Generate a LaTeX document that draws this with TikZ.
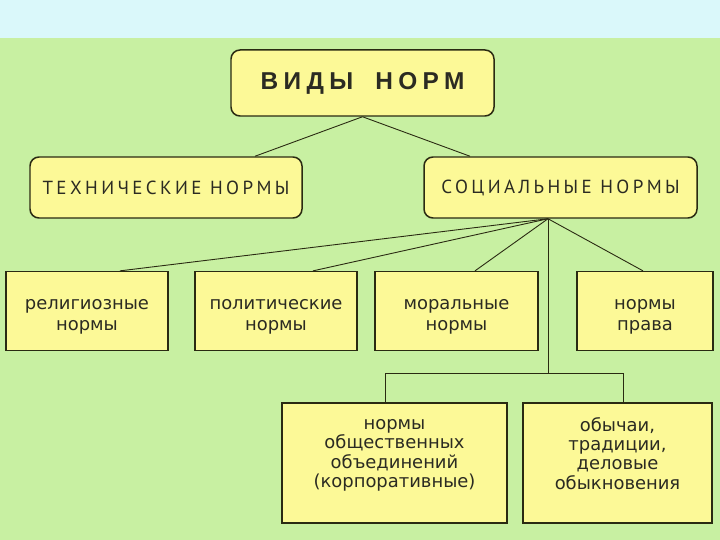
\documentclass[tikz,border=0pt]{standalone}
\usepackage{fontspec}
\usepackage{xcolor}
\usepackage{tikz}
\usetikzlibrary{positioning, calc}
\setmainfont{DejaVu Sans}
\newfontfamily\headfont[LetterSpace=22]{Liberation Sans}
\newfontfamily\capsfont[LetterSpace=18]{PT Sans}
\definecolor{skyband}{HTML}{DAF8FA}
\definecolor{meadow}{HTML}{C8F0A2}
\definecolor{paleyellow}{HTML}{FCF997}
\definecolor{darkolive}{HTML}{2A2A12}
\definecolor{inkgray}{HTML}{2B2B22}

\begin{document}
\begin{tikzpicture}[x=1bp, y=-1bp, font=\fontsize{18}{21}\selectfont,
    normbox/.style={draw=darkolive, fill=paleyellow, text=inkgray, line width=1.3pt, align=center, inner sep=2pt},
    roundbox/.style={normbox, rounded corners=9pt, line width=1.5pt},
    tallbox/.style={normbox, font=\fontsize{18}{19.5}\selectfont},
    link/.style={darkolive, line width=0.9pt}]
  % background
  \fill[skyband] (0,0) rectangle (720,540);
  \fill[meadow] (0,38) rectangle (720,540);
  \useasboundingbox (0,0) rectangle (720,540);

  \node[roundbox, minimum width=263bp, minimum height=66bp] (vidy) at (362.5,83)
    {\headfont\bfseries\fontsize{24.5}{26}\selectfont ВИДЫ\hspace{10bp} НОРМ};
  \node[roundbox, minimum width=272bp, minimum height=61bp] (tech) at (166,187.5)
    {\capsfont\fontsize{19}{20}\selectfont ТЕХНИЧЕСКИЕ НОРМЫ};
  \node[roundbox, minimum width=273bp, minimum height=61bp] (soc) at (560.5,187.5)
    {\capsfont\fontsize{19}{20}\selectfont СОЦИАЛЬНЫЕ НОРМЫ};

  \node[normbox, minimum width=162bp, minimum height=79bp] (relig) at (87,311)
    {\rule{0pt}{21bp}религиозные\\нормы};
  \node[normbox, minimum width=162bp, minimum height=79bp] (polit) at (276,311)
    {\rule{0pt}{21bp}политические\\нормы};
  \node[normbox, minimum width=163bp, minimum height=79bp] (moral) at (456.5,311)
    {\rule{0pt}{21bp}моральные\\нормы};
  \node[normbox, minimum width=136bp, minimum height=79bp] (prava) at (645,311)
    {\rule{0pt}{21bp}нормы\\права};

  \node[tallbox, minimum width=225bp, minimum height=120bp] (corp) at (394.5,463)
    {нормы\\общественных\\объединений\\(корпоративные)\\\mbox{}};
  \node[tallbox, minimum width=189bp, minimum height=120bp] (obych) at (617.5,463)
    {обычаи,\\традиции,\\деловые\\обыкновения\\\mbox{}};

  % fan lines
  \coordinate (fan) at ([xshift=-12.5bp]soc.south);
  \draw[link] (vidy.south) -- ([xshift=89bp]tech.north);
  \draw[link] (vidy.south) -- ([xshift=-90.5bp]soc.north);
  \draw[link] (fan) -- ([xshift=33bp]relig.north);
  \draw[link] (fan) -- ([xshift=37bp]polit.north);
  \draw[link] (fan) -- ([xshift=18.5bp]moral.north);
  \draw[link] (fan) -- ([xshift=-2bp]prava.north);

  % bracket to the lower boxes
  \coordinate (fork) at ($(fan)+(0,155)$);
  \draw[link] (fan) -- (fork);
  \draw[link] ([xshift=-9.5bp]corp.north) |- (fork) -| ([xshift=5.5bp]obych.north);
\end{tikzpicture}
\end{document}
